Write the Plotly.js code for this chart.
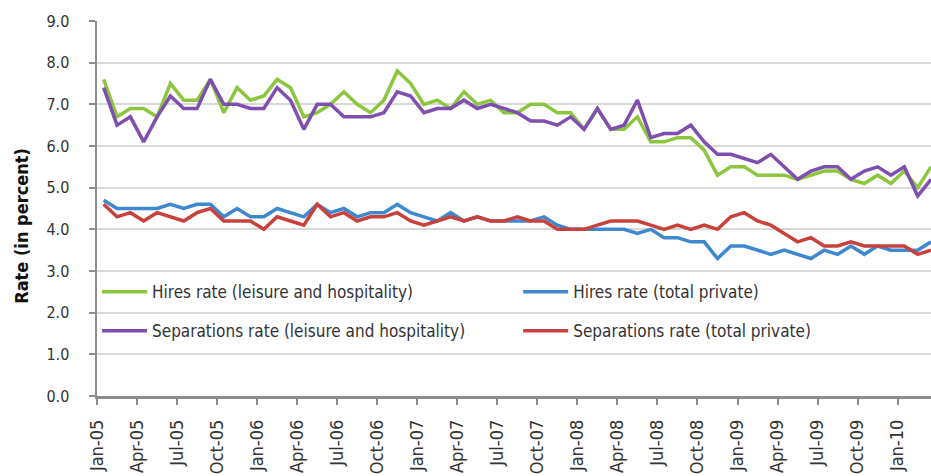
<!DOCTYPE html>
<html>
<head>
<meta charset="utf-8">
<script src="https://cdn.plot.ly/plotly-3.0.1.min.js"></script>
<style>html,body{margin:0;padding:0;background:#fff;overflow:hidden}</style>
</head>
<body>
<div id="chart" style="width:931px;height:476px"></div>
<script>
const months = ["Jan-05","Feb-05","Mar-05","Apr-05","May-05","Jun-05","Jul-05","Aug-05","Sep-05","Oct-05","Nov-05","Dec-05",
"Jan-06","Feb-06","Mar-06","Apr-06","May-06","Jun-06","Jul-06","Aug-06","Sep-06","Oct-06","Nov-06","Dec-06",
"Jan-07","Feb-07","Mar-07","Apr-07","May-07","Jun-07","Jul-07","Aug-07","Sep-07","Oct-07","Nov-07","Dec-07",
"Jan-08","Feb-08","Mar-08","Apr-08","May-08","Jun-08","Jul-08","Aug-08","Sep-08","Oct-08","Nov-08","Dec-08",
"Jan-09","Feb-09","Mar-09","Apr-09","May-09","Jun-09","Jul-09","Aug-09","Sep-09","Oct-09","Nov-09","Dec-09",
"Jan-10","Feb-10","Mar-10"];

const hiresLeisure = [7.6,6.7,6.9,6.9,6.7,7.5,7.1,7.1,7.6,6.8,7.4,7.1,
7.2,7.6,7.4,6.7,6.8,7.0,7.3,7.0,6.8,7.1,7.8,7.5,
7.0,7.1,6.9,7.3,7.0,7.1,6.8,6.8,7.0,7.0,6.8,6.8,
6.4,6.9,6.4,6.4,6.7,6.1,6.1,6.2,6.2,5.9,5.3,5.5,
5.5,5.3,5.3,5.3,5.2,5.3,5.4,5.4,5.2,5.1,5.3,5.1,
5.4,5.0,5.5];

const sepsLeisure = [7.4,6.5,6.7,6.1,6.7,7.2,6.9,6.9,7.6,7.0,7.0,6.9,
6.9,7.4,7.1,6.4,7.0,7.0,6.7,6.7,6.7,6.8,7.3,7.2,
6.8,6.9,6.9,7.1,6.9,7.0,6.9,6.8,6.6,6.6,6.5,6.7,
6.4,6.9,6.4,6.5,7.1,6.2,6.3,6.3,6.5,6.1,5.8,5.8,
5.7,5.6,5.8,5.5,5.2,5.4,5.5,5.5,5.2,5.4,5.5,5.3,
5.5,4.8,5.2];

const hiresTotal = [4.7,4.5,4.5,4.5,4.5,4.6,4.5,4.6,4.6,4.3,4.5,4.3,
4.3,4.5,4.4,4.3,4.6,4.4,4.5,4.3,4.4,4.4,4.6,4.4,
4.3,4.2,4.4,4.2,4.3,4.2,4.2,4.2,4.2,4.3,4.1,4.0,
4.0,4.0,4.0,4.0,3.9,4.0,3.8,3.8,3.7,3.7,3.3,3.6,
3.6,3.5,3.4,3.5,3.4,3.3,3.5,3.4,3.6,3.4,3.6,3.5,
3.5,3.5,3.7];

const sepsTotal = [4.6,4.3,4.4,4.2,4.4,4.3,4.2,4.4,4.5,4.2,4.2,4.2,
4.0,4.3,4.2,4.1,4.6,4.3,4.4,4.2,4.3,4.3,4.4,4.2,
4.1,4.2,4.3,4.2,4.3,4.2,4.2,4.3,4.2,4.2,4.0,4.0,
4.0,4.1,4.2,4.2,4.2,4.1,4.0,4.1,4.0,4.1,4.0,4.3,
4.4,4.2,4.1,3.9,3.7,3.8,3.6,3.6,3.7,3.6,3.6,3.6,
3.6,3.4,3.5];

const seriesNames = ["Hires rate (leisure and hospitality)","Hires rate (total private)",
"Separations rate (leisure and hospitality)","Separations rate (total private)"];
const yTicks = [0,1,2,3,4,5,6,7,8,9];
const yTickText = ["0.0","1.0","2.0","3.0","4.0","5.0","6.0","7.0","8.0","9.0"];
const yTitle = "Rate (in percent)";

const FONT = "'Liberation Sans Narrow', 'DejaVu Sans Condensed', 'Arial Narrow', sans-serif";
const idx = months.map((m, i) => i);
const tickIdx = idx.filter(i => i % 3 === 0);

function tr(y, name, color, legend, group) {
  return {x: idx, y: y, name: name, type: 'scatter', mode: 'lines',
    line: {color: color, width: 3.5}, legend: legend, legendgroup: group, hoverinfo: 'skip'};
}

const data = [
  tr(hiresLeisure, seriesNames[0], '#8cc63f', 'legend', 'g1'),
  tr(hiresTotal, seriesNames[1], '#3d88d1', 'legend2', 'g2'),
  tr(sepsLeisure, seriesNames[2], '#7f4fb0', 'legend', 'g3'),
  tr(sepsTotal, seriesNames[3], '#c8413b', 'legend2', 'g4')
];

const legendCommon = {
  orientation: 'v', bgcolor: 'rgba(0,0,0,0)', borderwidth: 0,
  font: {family: FONT, size: 17, color: '#333'},
  xanchor: 'left', yanchor: 'top', tracegroupgap: 14, itemwidth: 45
};

const layout = {
  width: 931, height: 476,
  margin: {l: 97, r: 0, t: 21, b: 80, pad: 0},
  paper_bgcolor: '#fff', plot_bgcolor: '#fff',
  font: {family: FONT, color: '#333'},
  showlegend: true,
  legend: Object.assign({}, legendCommon, {x: 0.0, y: 0.325}),
  legend2: Object.assign({}, legendCommon, {x: 0.505, y: 0.325}),
  xaxis: {
    range: [-0.5, 62], type: 'linear',
    tickmode: 'array', tickvals: tickIdx.map(i => i - 0.5), ticktext: tickIdx.map(i => months[i]),
    tickangle: -90, ticks: 'outside', ticklen: 6, tickwidth: 2, tickcolor: '#8c8c8c',
    showline: true, linecolor: '#8c8c8c', linewidth: 2.5,
    showgrid: false, zeroline: false,
    tickfont: {family: FONT, size: 18, color: '#333'}, ticklabelstandoff: 8
  },
  yaxis: {
    range: [0, 9], tickmode: 'array', tickvals: yTicks, ticktext: yTickText,
    ticks: 'outside', ticklen: 6, tickwidth: 2, tickcolor: '#8c8c8c',
    showline: true, linecolor: '#8c8c8c', linewidth: 2.5,
    showgrid: true, gridcolor: '#d9d9d9', gridwidth: 2, zeroline: false,
    tickfont: {family: FONT, size: 16, color: '#333'}, ticklabelstandoff: 16
  },
  annotations: [{
    text: yTitle, textangle: -90, xref: 'paper', yref: 'paper',
    x: -0.09, y: 0.4537, xanchor: 'center', yanchor: 'middle', showarrow: false,
    font: {family: FONT, size: 18, color: '#111', weight: 'bold'}
  }]
};

Plotly.newPlot('chart', data, layout, {staticPlot: true, displayModeBar: false});
</script>
</body>
</html>
